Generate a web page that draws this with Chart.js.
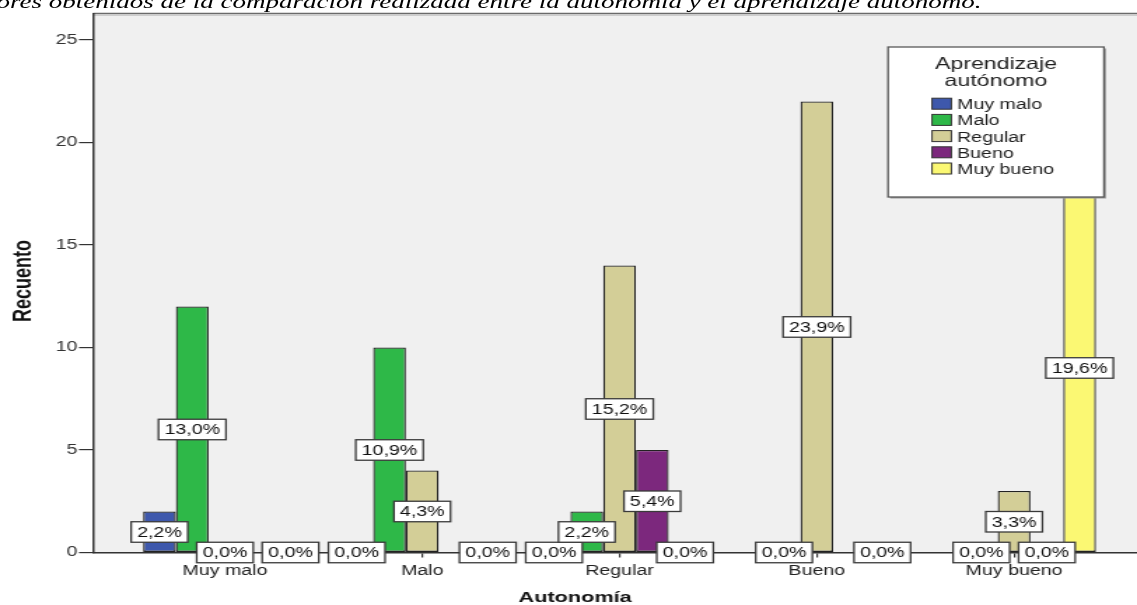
<!DOCTYPE html>
<html>
<head>
<meta charset="utf-8">
<script src="https://cdn.jsdelivr.net/npm/chart.js@4.4.1/dist/chart.umd.min.js"></script>
<style>
  html, body { margin: 0; padding: 0; background: #fff; width: 1137px; height: 605px; overflow: hidden; }
  /* the whole figure is laid out narrow and widened horizontally */
  #stage { position: absolute; left: 0; top: 0; width: 812px; height: 605px;
           transform: scaleX(1.40025); transform-origin: 0 0; overflow: visible; }
  #caption { position: absolute; right: 111px; top: -8px; white-space: nowrap;
             font: italic 19.3px/19px "Liberation Serif", "Times New Roman", serif; color: #000; }
  #chart { position: absolute; left: 0; top: 0; }
</style>
</head>
<body>
<div id="stage">
  <div id="caption">Valores obtenidos de la comparación realizada entre la autonomía y el aprendizaje autónomo.</div>
  <canvas id="chart" width="812" height="605"></canvas>
</div>
<script>
// Autonomía levels (x categories)
const categories = ['Muy malo', 'Malo', 'Regular', 'Bueno', 'Muy bueno'];
// Aprendizaje autónomo levels (series)
const seriesNames = ['Muy malo', 'Malo', 'Regular', 'Bueno', 'Muy bueno'];
const seriesColors = ['#3E58AC', '#2EB848', '#D3CE97', '#7C287D', '#FBF873'];
// Counts per Autonomía category; null = no bar, no label
const countsMuyMalo  = [2, 0, 0, null, null];
const countsMalo     = [12, 10, 2, 0, 0];
const countsRegular  = [0, 4, 14, 22, 3];
const countsBueno    = [null, null, 5, null, 0];
const countsMuyBueno = [0, 0, 0, 0, 18];
const yTicks = [0, 5, 10, 15, 20, 25];

const seriesCounts = [countsMuyMalo, countsMalo, countsRegular, countsBueno, countsMuyBueno];
const total = seriesCounts.flat().reduce((s, v) => s + (v || 0), 0);

const FONT = '"Liberation Sans", Arial, sans-serif';

const datasets = seriesNames.map((name, i) => ({
  label: name,
  data: seriesCounts[i].map((v, j) => ({ x: j, y: v })),
  backgroundColor: seriesColors[i],
  borderColor: '#222',
  borderWidth: 1.3,
  borderSkipped: false,
  categoryPercentage: 0.83,
  barPercentage: 1.0
}));

function pct(v) {
  return (v / total * 100).toFixed(1).replace('.', ',') + '%';
}

const spssDecor = {
  id: 'spssDecor',
  beforeDraw(chart) {
    const { ctx, chartArea: a } = chart;
    ctx.save();
    ctx.fillStyle = '#F0F0F0';
    ctx.fillRect(a.left, a.top, a.right - a.left, a.bottom - a.top);
    // frame top edge with soft shadow
    ctx.strokeStyle = '#6a6a6a';
    ctx.lineWidth = 1.6;
    ctx.beginPath(); ctx.moveTo(a.left, a.top); ctx.lineTo(a.right, a.top); ctx.stroke();
    ctx.strokeStyle = '#c4c4c4';
    ctx.lineWidth = 1;
    ctx.beginPath(); ctx.moveTo(a.left, a.top + 1.8); ctx.lineTo(a.right, a.top + 1.8); ctx.stroke();
    ctx.restore();
  },
  afterDatasetsDraw(chart) {
    const { ctx } = chart;
    const yScale = chart.scales.y;

    // legend box
    ctx.save();
    const lx = 634.2, ly = 47, lw = 154.2, lh = 150;
    ctx.fillStyle = '#9a9a9a';
    ctx.fillRect(lx + 1.5, ly + 1.5, lw, lh);
    ctx.fillStyle = '#ffffff';
    ctx.fillRect(lx, ly, lw, lh);
    ctx.strokeStyle = '#5a5a5a';
    ctx.lineWidth = 1.3;
    ctx.strokeRect(lx, ly, lw, lh);
    ctx.fillStyle = '#1e1e1e';
    ctx.textAlign = 'center';
    ctx.textBaseline = 'alphabetic';
    ctx.font = '16.5px ' + FONT;
    ctx.fillText('Aprendizaje', lx + lw / 2, 69.3);
    ctx.fillText('autónomo', lx + lw / 2, 85.7);
    ctx.font = '14px ' + FONT;
    ctx.textAlign = 'left';
    chart.data.datasets.forEach((ds, i) => {
      const base = 109.2 + i * 16.2;
      ctx.fillStyle = ds.backgroundColor;
      ctx.fillRect(665.6, base - 11, 13.8, 11);
      ctx.strokeStyle = '#333';
      ctx.lineWidth = 1;
      ctx.strokeRect(665.6, base - 11, 13.8, 11);
      ctx.fillStyle = '#1e1e1e';
      ctx.fillText(ds.label, 683.5, base);
    });
    ctx.restore();

    // percentage labels at half bar height
    ctx.save();
    ctx.font = '14px ' + FONT;
    ctx.textAlign = 'center';
    ctx.textBaseline = 'middle';
    chart.data.datasets.forEach((ds, i) => {
      const meta = chart.getDatasetMeta(i);
      meta.data.forEach((bar, j) => {
        const v = ds.data[j].y;
        if (v === null || v === undefined) return;
        const text = pct(v);
        const x = bar.x;
        const y = yScale.getPixelForValue(v / 2);
        const w = ctx.measureText(text).width + 8.5;
        const h = 20.5;
        ctx.fillStyle = '#ffffff';
        ctx.fillRect(x - w / 2, y - h / 2, w, h);
        ctx.strokeStyle = '#3a3a3a';
        ctx.lineWidth = 1.3;
        ctx.strokeRect(x - w / 2, y - h / 2, w, h);
        ctx.fillStyle = '#111';
        ctx.fillText(text, x, y + 1);
      });
    });
    ctx.restore();
  },
  afterDraw(chart) {
    const { ctx } = chart;
    ctx.save();
    ctx.fillStyle = '#111';
    ctx.font = 'bold 15.5px ' + FONT;
    ctx.textAlign = 'center';
    ctx.textBaseline = 'alphabetic';
    ctx.fillText('Autonomía', 410.7, 601.5);
    ctx.translate(22, 281);
    ctx.rotate(-Math.PI / 2);
    ctx.font = 'bold 18px ' + FONT;
    ctx.fillText('Recuento', 0, 0);
    ctx.restore();
  }
};

new Chart(document.getElementById('chart'), {
  type: 'bar',
  data: { datasets },
  options: {
    responsive: false,
    animation: false,
    devicePixelRatio: 1,
    layout: { padding: { left: 0, right: 0, top: 13.5, bottom: 0 } },
    plugins: { legend: { display: false }, tooltip: { enabled: false }, title: { display: false } },
    scales: {
      x: {
        type: 'linear',
        min: -0.669,
        max: 4.623,
        offset: false,
        z: 1,
        afterBuildTicks(scale) { scale.ticks = categories.map((c, i) => ({ value: i })); },
        afterFit(scale) { scale.height = 52.5; },
        ticks: {
          autoSkip: false,
          maxRotation: 0,
          padding: 5,
          color: '#222',
          font: { family: FONT, size: 14 },
          callback: (v) => categories[v]
        },
        grid: { offset: false, drawOnChartArea: false, drawTicks: true, tickLength: 5, color: '#333', lineWidth: 1.2 },
        border: { display: true, color: '#333', width: 1.5 }
      },
      y: {
        min: 0,
        max: 26.29,
        afterBuildTicks(scale) { scale.ticks = yTicks.map(v => ({ value: v })); },
        afterFit(scale) { scale.width = 66.4; },
        ticks: { padding: 1, color: '#333', font: { family: FONT, size: 14 } },
        grid: { drawOnChartArea: false, drawTicks: true, tickLength: 10, color: '#333', lineWidth: 1.2 },
        border: { display: true, color: '#333', width: 1.5 }
      }
    }
  },
  plugins: [spssDecor]
});
</script>
</body>
</html>
